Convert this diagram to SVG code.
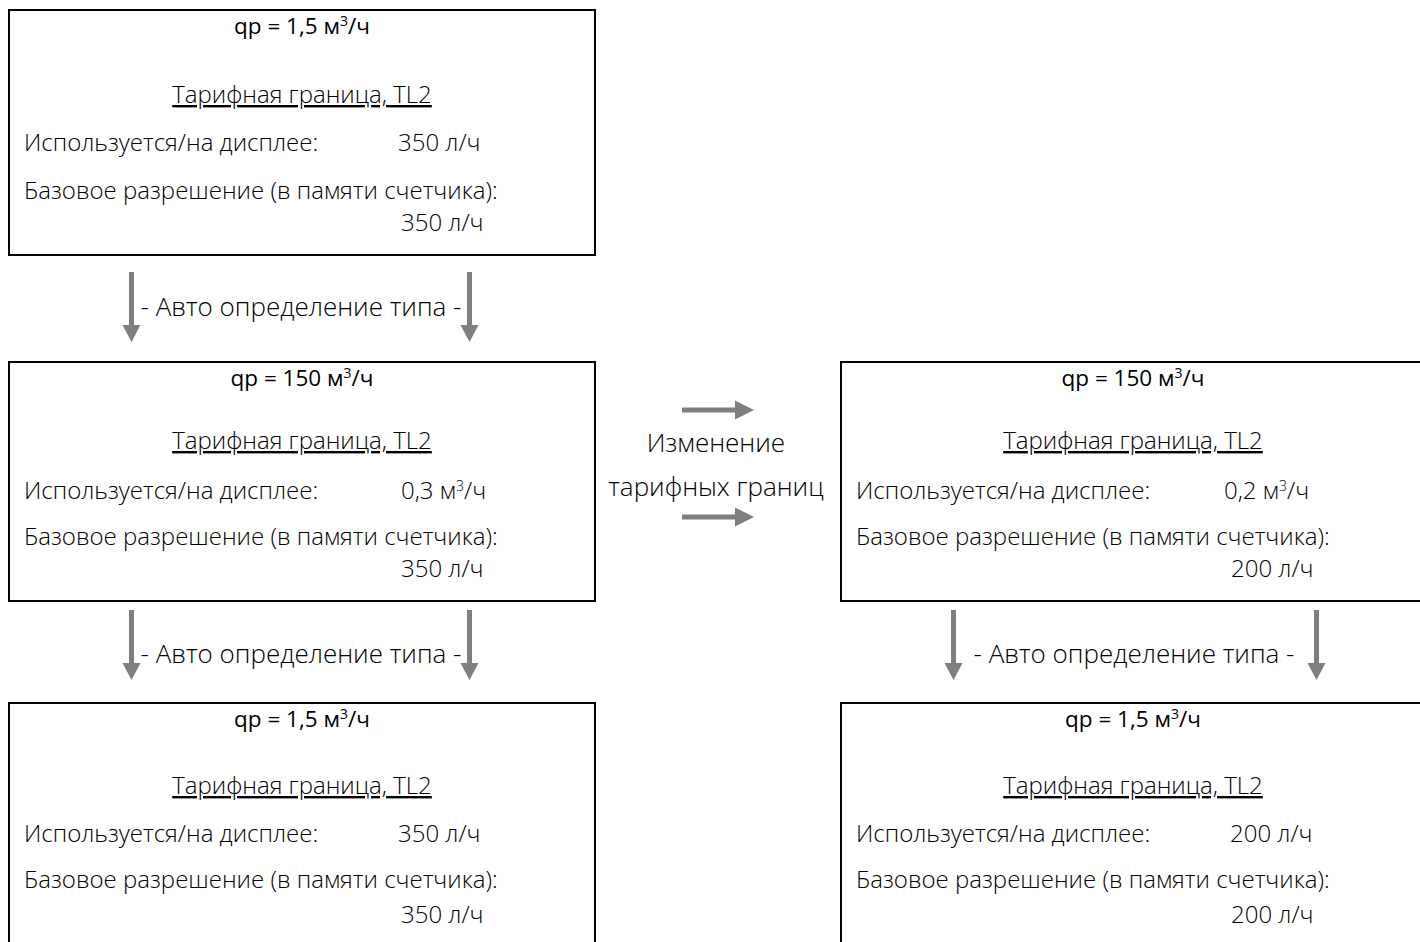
<svg xmlns="http://www.w3.org/2000/svg" width="1420" height="942" viewBox="0 0 1420 942">
<style>
.box{fill:#fff;stroke:#000;stroke-width:2}
.t{font-family:"Open Sans","Liberation Sans",sans-serif;font-weight:300;font-size:24px;fill:#000}
.ttl{font-family:"Open Sans","Liberation Sans",sans-serif;font-weight:500;font-size:22.5px;fill:#000;text-anchor:middle}
.u{text-decoration:underline;text-anchor:middle}
.lbl{font-family:"Open Sans","Liberation Sans",sans-serif;font-weight:300;font-size:26px;fill:#000}
.arr{fill:#7f7f7f}
</style>
<rect width="1420" height="942" fill="#fff"/>
<g id="box1">
<rect class="box" x="9" y="10" width="586" height="245"/>
<text class="ttl" x="302" y="34">qp = 1,5 м<tspan font-size="14" dy="-8">3</tspan><tspan dy="8">/ч</tspan></text>
<text class="t u" x="302" y="103">Тарифная граница, TL2</text>
<text class="t" x="24" y="151">Используется/на дисплее:</text>
<text class="t" x="398" y="151">350 л/ч</text>
<text class="t" x="24" y="199">Базовое разрешение (в памяти счетчика):</text>
<text class="t" x="401" y="231">350 л/ч</text>
</g>
<g id="box2">
<rect class="box" x="9" y="362" width="586" height="239"/>
<text class="ttl" x="302" y="386">qp = 150 м<tspan font-size="14" dy="-8">3</tspan><tspan dy="8">/ч</tspan></text>
<text class="t u" x="302" y="449">Тарифная граница, TL2</text>
<text class="t" x="24" y="499">Используется/на дисплее:</text>
<text class="t" x="401" y="499">0,3 м<tspan font-size="14" dy="-8">3</tspan><tspan dy="8">/ч</tspan></text>
<text class="t" x="24" y="545">Базовое разрешение (в памяти счетчика):</text>
<text class="t" x="401" y="577">350 л/ч</text>
</g>
<g id="box3">
<rect class="box" x="9" y="703" width="586" height="250"/>
<text class="ttl" x="302" y="727">qp = 1,5 м<tspan font-size="14" dy="-8">3</tspan><tspan dy="8">/ч</tspan></text>
<text class="t u" x="302" y="794">Тарифная граница, TL2</text>
<text class="t" x="24" y="842">Используется/на дисплее:</text>
<text class="t" x="398" y="842">350 л/ч</text>
<text class="t" x="24" y="888">Базовое разрешение (в памяти счетчика):</text>
<text class="t" x="401" y="923">350 л/ч</text>
</g>
<g id="box4">
<rect class="box" x="841" y="362" width="590" height="239"/>
<text class="ttl" x="1133" y="386">qp = 150 м<tspan font-size="14" dy="-8">3</tspan><tspan dy="8">/ч</tspan></text>
<text class="t u" x="1133" y="449">Тарифная граница, TL2</text>
<text class="t" x="856" y="499">Используется/на дисплее:</text>
<text class="t" x="1224" y="499">0,2 м<tspan font-size="14" dy="-8">3</tspan><tspan dy="8">/ч</tspan></text>
<text class="t" x="856" y="545">Базовое разрешение (в памяти счетчика):</text>
<text class="t" x="1231" y="577">200 л/ч</text>
</g>
<g id="box5">
<rect class="box" x="841" y="703" width="590" height="250"/>
<text class="ttl" x="1133" y="727">qp = 1,5 м<tspan font-size="14" dy="-8">3</tspan><tspan dy="8">/ч</tspan></text>
<text class="t u" x="1133" y="794">Тарифная граница, TL2</text>
<text class="t" x="856" y="842">Используется/на дисплее:</text>
<text class="t" x="1230" y="842">200 л/ч</text>
<text class="t" x="856" y="888">Базовое разрешение (в памяти счетчика):</text>
<text class="t" x="1231" y="923">200 л/ч</text>
</g>
<g id="connectors">
<path class="arr" d="M129 272h5v53h6.5l-9 17l-9-17h6.5z"/>
<path class="arr" d="M467 272h5v53h6.5l-9 17l-9-17h6.5z"/>
<text class="lbl" x="301" y="316" text-anchor="middle">- Авто определение типа -</text>
<path class="arr" d="M129 610h5v53h6.5l-9 17l-9-17h6.5z"/>
<path class="arr" d="M467 610h5v53h6.5l-9 17l-9-17h6.5z"/>
<text class="lbl" x="301" y="663" text-anchor="middle">- Авто определение типа -</text>
<path class="arr" d="M951 610h5v53h6.5l-9 17l-9-17h6.5z"/>
<path class="arr" d="M1314 610h5v53h6.5l-9 17l-9-17h6.5z"/>
<text class="lbl" x="1134" y="663" text-anchor="middle">- Авто определение типа -</text>
<path class="arr" d="M682 407.5h53v-7l19 9.5l-19 9.5v-7h-53z"/>
<path class="arr" d="M682 514.5h53v-7l19 9.5l-19 9.5v-7h-53z"/>
<text class="lbl" x="716" y="452" text-anchor="middle">Изменение</text>
<text class="lbl" x="716" y="496" text-anchor="middle">тарифных границ</text>
</g>
</svg>
